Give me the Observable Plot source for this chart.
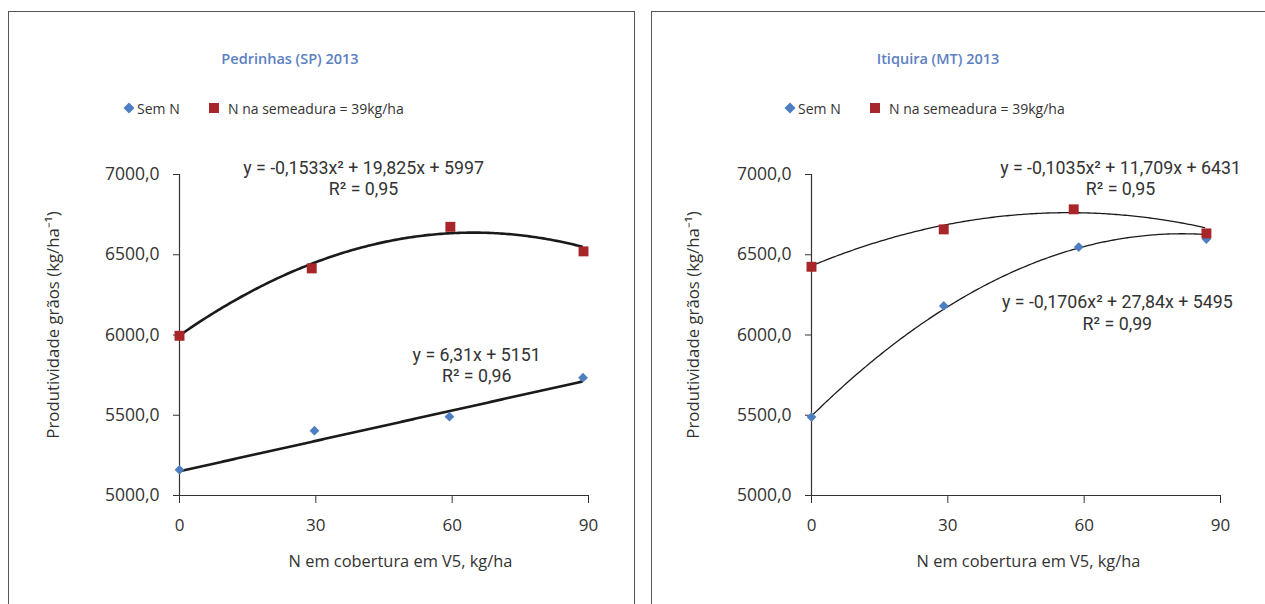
<!DOCTYPE html>
<html>
<head>
<meta charset="utf-8">
<script src="https://cdn.jsdelivr.net/npm/d3@7"></script>
<script src="https://cdn.jsdelivr.net/npm/@observablehq/plot@0.6"></script>
<style>
  html, body { margin: 0; padding: 0; background: #fff; }
  #root { position: relative; width: 1265px; height: 604px; overflow: hidden; font-family: "Open Sans", sans-serif; color: #333; }
  .panel { position: absolute; border: 1px solid #555; box-sizing: border-box; }
  .abs { position: absolute; white-space: nowrap; }
  .title { font-weight: 600; color: #5b80c2; font-size: 14.5px; transform: translate(-50%, -50%); }
  .leg { font-size: 14px; transform: translateY(-50%); color: #333; }
  svg.plot { position: absolute; }
</style>
</head>
<body>
<div id="root"></div>
<script>
// ---------- data ----------
const xTicks = [0, 30, 60, 90];
const yTicks = [5000, 5500, 6000, 6500, 7000];

const seriesNames = ["Sem N", "N na semeadura = 39kg/ha"];

// Pedrinhas (SP) 2013
const pedX_semN = [0, 29.7, 59.4, 88.8];
const pedY_semN = [5160, 5404, 5491, 5734];
const pedX_nSem = [0, 29.1, 59.6, 88.9];
const pedY_nSem = [5995, 6415, 6674, 6521];
const pedCoef_semN = [5151, 6.31, 0];           // c0, c1, c2
const pedCoef_nSem = [5997, 19.825, -0.1533];
const pedEq = ["y = 6,31x + 5151\nR² = 0,96", "y = -0,1533x² + 19,825x + 5997\nR² = 0,95"];
const pedEqX = [65.4, 40.5];
const pedEqY = [5814, 6982];

// Itiquira (MT) 2013
const itiX_semN = [0, 29.1, 58.8, 86.9];
const itiY_semN = [5489, 6181, 6548, 6598];
const itiX_nSem = [0, 29.1, 57.7, 86.9];
const itiY_nSem = [6425, 6658, 6783, 6633];
const itiCoef_semN = [5495, 27.84, -0.1706];
const itiCoef_nSem = [6431, 11.709, -0.1035];
const itiEq = ["y = -0,1706x² + 27,84x + 5495\nR² = 0,99", "y = -0,1035x² + 11,709x + 6431\nR² = 0,95"];
const itiEqX = [67.3, 68.0];
const itiEqY = [6142, 6981];

const titles = ["Pedrinhas (SP) 2013", "Itiquira (MT) 2013"];
const yLabel = "Produtividade grãos (kg/ha⁻¹)";
const xLabel = "N em cobertura em V5, kg/ha";

// ---------- styling ----------
const RED = "#a8252a";
const BLUE = "#4e7ec2";
const FONT = "Open Sans, sans-serif";

function pts(xs, ys) { return xs.map((x, i) => ({x, y: ys[i]})); }
function trend(coef, xmax) {
  return d3.range(0, xmax + 0.001, 0.5).map(x => ({x, y: coef[0] + coef[1] * x + coef[2] * x * x}));
}
const fmt = d => d.toFixed(1).replace(".", ",");

function panel(cfg) {
  const root = document.getElementById("root");
  const box = document.createElement("div");
  box.className = "panel";
  Object.assign(box.style, {left: cfg.left + "px", top: "11px", width: cfg.boxW + "px", height: "620px"});
  root.appendChild(box);

  const eqs = cfg.eq.map((t, i) => ({t, x: cfg.eqX[i], y: cfg.eqY[i]}));
  const chart = Plot.plot({
    width: cfg.w, height: 593,
    marginLeft: cfg.ml, marginRight: cfg.w - cfg.xr, marginTop: 163, marginBottom: 109,
    style: {fontFamily: FONT, fontSize: "15px", color: "#333", background: "transparent"},
    x: {domain: [0, 90], ticks: xTicks},
    y: {domain: [5000, 7000], ticks: yTicks},
    marks: [
      Plot.ruleY([5000], {x1: 0, x2: 90, stroke: "#333", strokeWidth: 1.2}),
      Plot.ruleX([0], {y1: 5000, y2: 7000, stroke: "#333", strokeWidth: 1.2}),
      Plot.axisY({ticks: yTicks, tickSize: 6, tickPadding: 14, tickFormat: fmt, label: null, stroke: "#333", fontSize: 17.5}),
      Plot.axisX({ticks: xTicks, tickSize: 8, tickPadding: 15, label: null, stroke: "#333", fontSize: 17}),
      Plot.line(trend(cfg.coefA, cfg.xmaxA), {x: "x", y: "y", stroke: "#1a1a1a", strokeWidth: cfg.lw}),
      Plot.line(trend(cfg.coefB, cfg.xmaxB), {x: "x", y: "y", stroke: "#1a1a1a", strokeWidth: cfg.lw}),
      Plot.dot(cfg.semN, {x: "x", y: "y", symbol: "diamond2", r: 4.4, fill: BLUE}),
      Plot.dot(cfg.nSem, {x: "x", y: "y", symbol: "square", r: 5.6, fill: RED}),
      Plot.text(eqs, {x: "x", y: "y", text: "t", fontFamily: "Roboto, sans-serif", fontSize: 17.8, lineHeight: 1.2, fill: "#333"}),
      Plot.text([yLabel], {frameAnchor: "left", textAnchor: "middle", rotate: -90, dx: cfg.ylDx, dy: -10, fontSize: 16.8, fill: "#333"}),
      Plot.text([xLabel], {frameAnchor: "bottom", textAnchor: "middle", dx: cfg.xlDx, dy: 71, fontSize: 16.4, fill: "#333"})
    ]
  });
  chart.classList.add("plot");
  chart.style.left = cfg.left + "px";
  chart.style.top = "11px";
  root.appendChild(chart);

  const t = document.createElement("div");
  t.className = "abs title";
  t.textContent = cfg.title;
  t.style.left = cfg.titleX + "px"; t.style.top = "58px";
  root.appendChild(t);

  // legend
  const ly = 108;
  const d = document.createElementNS("http://www.w3.org/2000/svg", "svg");
  d.setAttribute("width", 12); d.setAttribute("height", 12);
  d.style.position = "absolute"; d.style.left = (cfg.legX - 6) + "px"; d.style.top = (ly - 6) + "px";
  d.innerHTML = `<path d="M6,0.5L11.5,6L6,11.5L0.5,6Z" fill="${BLUE}"/>`;
  root.appendChild(d);
  const l1 = document.createElement("div");
  l1.className = "abs leg"; l1.textContent = seriesNames[0];
  l1.style.left = (cfg.legX + 8) + "px"; l1.style.top = ly + "px";
  root.appendChild(l1);
  const s = document.createElementNS("http://www.w3.org/2000/svg", "svg");
  s.setAttribute("width", 10); s.setAttribute("height", 10);
  s.style.position = "absolute"; s.style.left = (cfg.legX + 80) + "px"; s.style.top = (ly - 5) + "px";
  s.innerHTML = `<rect width="10" height="10" fill="${RED}"/>`;
  root.appendChild(s);
  const l2 = document.createElement("div");
  l2.className = "abs leg"; l2.textContent = seriesNames[1];
  l2.style.left = (cfg.legX + 99) + "px"; l2.style.top = ly + "px";
  root.appendChild(l2);
}

panel({
  left: 8, boxW: 627, w: 626, ml: 171, xr: 580, lw: 2.6,
  semN: pts(pedX_semN, pedY_semN), nSem: pts(pedX_nSem, pedY_nSem),
  coefA: pedCoef_semN, xmaxA: 88.8, coefB: pedCoef_nSem, xmaxB: 88.9,
  eq: pedEq, eqX: pedEqX, eqY: pedEqY,
  ylDx: -126, xlDx: 16.5,
  title: titles[0], titleX: 290, legX: 129
});
panel({
  left: 651, boxW: 640, w: 614, ml: 160, xr: 569, lw: 1.3,
  semN: pts(itiX_semN, itiY_semN), nSem: pts(itiX_nSem, itiY_nSem),
  coefA: itiCoef_semN, xmaxA: 86.9, coefB: itiCoef_nSem, xmaxB: 86.9,
  eq: itiEq, eqX: itiEqX, eqY: itiEqY,
  ylDx: -118, xlDx: 12.5,
  title: titles[1], titleX: 938, legX: 790
});
</script>
</body>
</html>
